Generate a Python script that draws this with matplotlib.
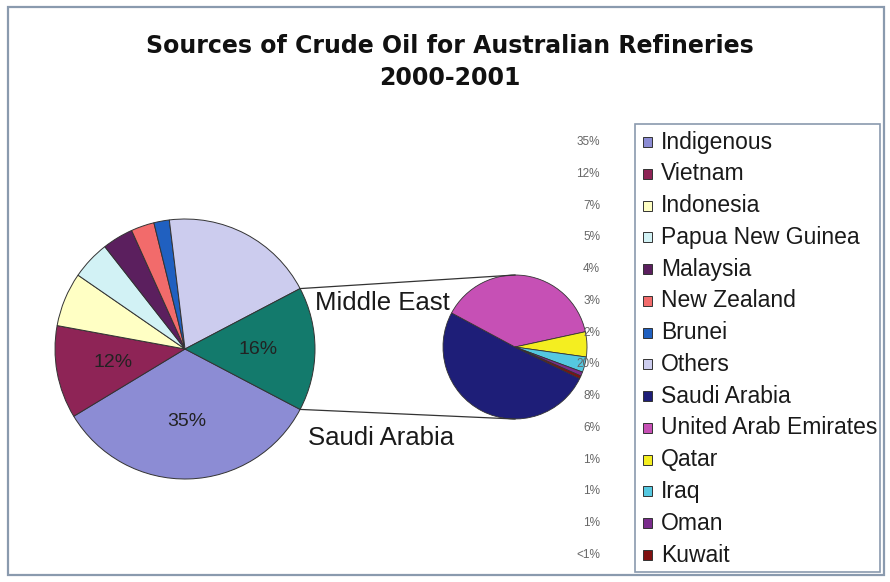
import matplotlib
matplotlib.use("Agg")
import matplotlib.pyplot as plt
from matplotlib.patches import Rectangle
import numpy as np

plt.rcParams['font.family'] = ['Liberation Sans', 'DejaVu Sans']

# ---------------- data ----------------
title_line1 = "Sources of Crude Oil for Australian Refineries"
title_line2 = "2000-2001"

main_labels = ["Indigenous", "Vietnam", "Indonesia", "Papua New Guinea",
               "Malaysia", "New Zealand", "Brunei", "Others", "Middle East"]
main_values = [35, 12, 7, 5, 4, 3, 2, 20, 16]
main_slice_text = ["35%", "12%", "", "", "", "", "", "", "16%"]
main_colors = ["#8C8CD4", "#8E2456", "#FFFFC4", "#D2F2F5", "#5B1F5E",
               "#F26B6B", "#2060C0", "#CCCCEE", "#137A6C"]

me_labels = ["Saudi Arabia", "United Arab Emirates", "Qatar", "Iraq", "Oman", "Kuwait"]
me_values = [8.1, 6.2, 0.9, 0.55, 0.15, 0.1]
me_colors = ["#1E1E78", "#C650B5", "#F4EE20", "#55C8E0", "#7A2C8C", "#801010"]

legend_pct = ["35%", "12%", "7%", "5%", "4%", "3%", "2%", "20%",
              "8%", "6%", "1%", "1%", "1%", "<1%"]

# ---------------- figure ----------------
W, H = 890, 582
fig = plt.figure(figsize=(W / 100, H / 100), dpi=100)
ax = fig.add_axes([0, 0, 1, 1])
ax.set_xlim(0, W)
ax.set_ylim(0, H)
ax.set_aspect('equal')
ax.axis('off')

def Y(y_img):
    return H - y_img

# outer frame
ax.add_patch(Rectangle((8, Y(575)), 876, 568, fill=False,
                       edgecolor="#8A9AAE", lw=1.6))

# title
ax.text(450, Y(46), title_line1, ha='center', va='center', family='DejaVu Sans',
        fontsize=17, fontweight='bold', color='#111111')
ax.text(450, Y(78), title_line2, ha='center', va='center', family='DejaVu Sans',
        fontsize=17, fontweight='bold', color='#111111')

# primary pie
c1 = (185, Y(349)); r1 = 130
start1 = -main_values[-1] / sum(main_values) * 180.0
w1, t1 = ax.pie(main_values, colors=main_colors, labels=main_slice_text,
                labeldistance=0.56, startangle=start1, counterclock=False,
                center=c1, radius=r1, frame=True,
                wedgeprops=dict(edgecolor="#333333", linewidth=0.7),
                textprops=dict(fontsize=14, color="#222222", ha='center', va='center'))
for t in t1:
    t.set_ha('center'); t.set_va('center')

# secondary pie
c2 = (515, Y(347)); r2 = 72
w2, _ = ax.pie(me_values, colors=me_colors, startangle=-26, counterclock=False,
               center=c2, radius=r2, frame=True,
               wedgeprops=dict(edgecolor="#333333", linewidth=0.6))

ax.set_xlim(0, W)
ax.set_ylim(0, H)
ax.axis('off')

# connector lines
me_w = w1[-1]
ta, tb = np.deg2rad(me_w.theta1), np.deg2rad(me_w.theta2)
pts = [(c1[0] + r1 * np.cos(a), c1[1] + r1 * np.sin(a)) for a in (ta, tb)]
lo, hi = sorted(pts, key=lambda p: p[1])
ax.plot([hi[0], c2[0]], [hi[1], c2[1] + r2], color="#333333", lw=0.9)
ax.plot([lo[0], c2[0]], [lo[1], c2[1] - r2], color="#333333", lw=0.9)

# labels
ax.text(315, Y(303), "Middle East", ha='left', va='center', fontsize=18.5, color='#1a1a1a')
ax.text(308, Y(438), "Saudi Arabia", ha='left', va='center', fontsize=18.5, color='#1a1a1a')

# legend
ax.add_patch(Rectangle((635, Y(572)), 245, 448, fill=False,
                       edgecolor="#8A9AAE", lw=1.2))
leg_names = main_labels[:-1] + me_labels
leg_colors = main_colors[:-1] + me_colors
step = 31.77
for i, (nm, col, pc) in enumerate(zip(leg_names, leg_colors, legend_pct)):
    yc = Y(142 + i * step)
    ax.add_patch(Rectangle((643, yc - 5), 9, 10, facecolor=col,
                           edgecolor="#333333", lw=0.7))
    ax.text(661, yc, nm, ha='left', va='center', fontsize=16.5, color='#1a1a1a')
    ax.text(600, yc, pc, ha='right', va='center', fontsize=8.5, color='#666666')

fig.savefig("out.png", dpi=100, facecolor='white')
